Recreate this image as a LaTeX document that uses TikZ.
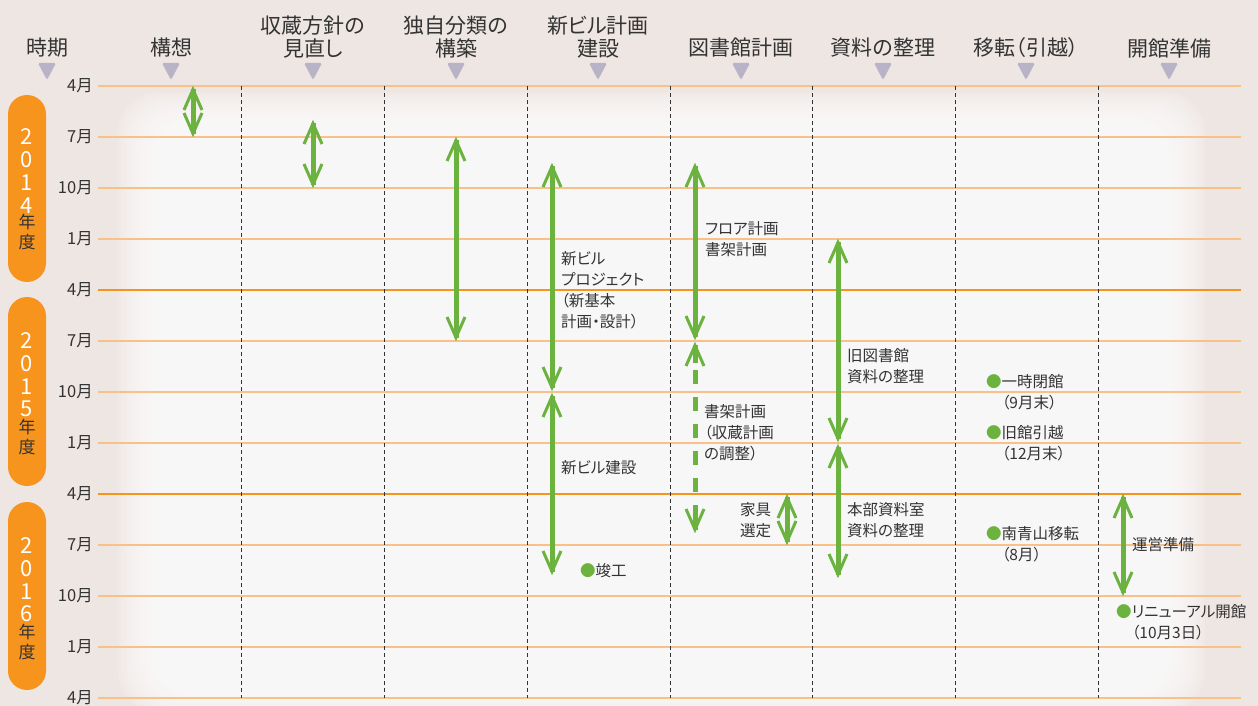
\documentclass[tikz,border=0pt]{standalone}
\usepackage{fontspec}
\setmainfont{Noto Sans CJK JP}[RawFeature=+palt]
\usetikzlibrary{arrows.meta}
\definecolor{bgc}{HTML}{EEE6E3}
\definecolor{grn}{HTML}{6CB23F}
\definecolor{org}{HTML}{F7941D}
\definecolor{lorg}{HTML}{F9C187}
\definecolor{tri}{HTML}{B8B3C6}
\definecolor{txt}{HTML}{333333}
\tikzset{
  hdr/.style={font=\fontsize{21}{23}\selectfont, text=txt, align=center, inner sep=0pt},
  mon/.style={font=\fontsize{16.5}{18}\selectfont, text=txt, anchor=east, inner sep=0pt},
  lbl/.style={font=\fontsize{15.5}{21}\selectfont, text=txt, align=left, anchor=west, inner sep=0pt},
  yr/.style={font=\fontsize{22}{22.7}\selectfont, text=white, align=center, inner sep=0pt},
  yrk/.style={font=\fontsize{17}{20}\selectfont, text=txt, align=center, inner sep=0pt},
  gline/.style={draw=grn, line width=5pt},
  ghead/.style={draw=grn, line width=3pt, line join=miter},
  sep/.style={draw=txt, line width=1pt, dash pattern=on 4pt off 3pt},
  mline/.style={draw=lorg, line width=2pt},
  yline/.style={draw=org, line width=2.6pt},
  pill/.style={fill=org, rounded corners=19pt},
  tridown/.style={fill=tri}
}
\newcommand\HeadUp[1]{\draw[ghead] ([shift={(-9,24)}]#1) -- ([shift={(0,3.5)}]#1) -- ([shift={(9,24)}]#1);}
\newcommand\HeadDown[1]{\draw[ghead] ([shift={(-9,-24)}]#1) -- ([shift={(0,-3.5)}]#1) -- ([shift={(9,-24)}]#1);}
\newcommand\GArrow[2]{\draw[gline] ([shift={(0,3)}]#1) -- ([shift={(0,-3)}]#2); \HeadUp{#1} \HeadDown{#2}}
\begin{document}
\begin{tikzpicture}[x=1pt,y=-1pt]
\useasboundingbox (0,0) rectangle (1258,706);
\clip (0,0) rectangle (1258,706);
\fill[bgc] (0,0) rectangle (1258,706);
\foreach \k in {0,...,23}
  \fill[white, opacity=0.12, rounded corners=40pt] (118+\k*3,92+\k*2.5) rectangle (1205-\k*3,712-\k*1.5);

% month lines
\foreach \i/\m in {0/4,1/7,2/10,3/1,4/4,5/7,6/10,7/1,8/4,9/7,10/10,11/1,12/4}{
  \node[mon] (m\i) at (93,86+\i*51) {\m 月};
  \coordinate (L\i) at (98,86+\i*51);
  \coordinate (R\i) at (1241,86+\i*51);
}
\foreach \i in {0,1,2,3,5,6,7,9,10,11,12} \draw[mline] (L\i) -- (R\i);
\foreach \i in {4,8} \draw[yline] (L\i) -- (R\i);

% separators
\foreach \x [count=\j] in {241,384,527,670,812,955,1098}{
  \coordinate (st\j) at (\x,86);
  \coordinate (sb\j) at (\x,698);
  \draw[sep] (st\j) -- (sb\j);
}

% headers
\node[hdr] (h0) at (47,48) {時期};
\node[hdr] (h1) at (171,48) {構想};
\node[hdr] (h2) at (313,37) {収蔵方針の\\見直し};
\node[hdr] (h3) at (456,37) {独自分類の\\構築};
\node[hdr] (h4) at (598,37) {新ビル計画\\建設};
\node[hdr] (h5) at (741,48) {図書館計画};
\node[hdr] (h6) at (883,48) {資料の整理};
\node[hdr] (h7) at (1026,48) {移転（引越）};
\node[hdr] (h8) at (1169,48) {開館準備};
\foreach \x in {47,171,313,456,598,741,883,1026,1169}
  \fill[tridown, rounded corners=1.5pt] (\x-9,63) -- (\x+9,63) -- (\x,80) -- cycle;

% year pills
\fill[pill] (8,95) rectangle (46,282);
\fill[pill] (8,297) rectangle (46,486);
\fill[pill] (8,502) rectangle (46,690);
\node[yr] (y14) at (27,171) {2\\0\\1\\4};
\node[yrk] (k14) at (27,232) {年\\度};
\node[yr] (y15) at (27,375) {2\\0\\1\\5};
\node[yrk] (k15) at (27,437) {年\\度};
\node[yr] (y16) at (27,580) {2\\0\\1\\6};
\node[yrk] (k16) at (27,642) {年\\度};

% arrows
\coordinate (a1) at (193,86);  \coordinate (a2) at (193,137);
\GArrow{a1}{a2}
\coordinate (b1) at (313,120); \coordinate (b2) at (313,188);
\GArrow{b1}{b2}
\coordinate (c1) at (456,137); \coordinate (c2) at (456,341);
\GArrow{c1}{c2}
\coordinate (d1) at (552,163); \coordinate (d2) at (552,391); \coordinate (d2b) at (552,393); \coordinate (d3) at (552,575);
\GArrow{d1}{d2}
\GArrow{d2b}{d3}
\coordinate (e1) at (695,163); \coordinate (e2) at (695,340); \coordinate (e2b) at (695,342);
\coordinate (e3) at (695,363); \coordinate (e4) at (695,508); \coordinate (e5) at (695,533);
\GArrow{e1}{e2}
\draw[gline] ([shift={(0,3)}]e2b) -- (e3);
\HeadUp{e2b}
\draw[gline, dash pattern=on 14pt off 13pt] ([yshift=-7pt]e3) -- (e4);
\draw[gline] (e4) -- ([shift={(0,-3)}]e5);
\HeadDown{e5}
\coordinate (f1) at (787,494); \coordinate (f2) at (787,545);
\GArrow{f1}{f2}
\coordinate (g1) at (838,239); \coordinate (g2) at (838,442); \coordinate (g2b) at (838,444); \coordinate (g3) at (838,578);
\GArrow{g1}{g2}
\GArrow{g2b}{g3}
\coordinate (i1) at (1123,494); \coordinate (i2) at (1123,596);
\GArrow{i1}{i2}

% labels
\node[lbl] (t1) at (561,290) {新ビル\\プロジェクト\\（新基本\\計画・設計）};
\node[lbl] (t2) at (705,239.5) {フロア計画\\書架計画};
\node[lbl] (t3) at (561,468) {新ビル建設};
\node[lbl] (t4) at (704,433) {書架計画\\（収蔵計画\\の調整）};
\node[lbl] (t5) at (740,520.5) {家具\\選定};
\node[lbl] (t6) at (847,520.5) {本部資料室\\資料の整理};
\node[lbl] (t7) at (847,366.5) {旧図書館\\資料の整理};
\node[lbl] (t8) at (986,392.5) {\textcolor{grn}{●}一時閉館\\\hspace{1em}（9月末）};
\node[lbl] (t9) at (986,443) {\textcolor{grn}{●}旧館引越\\\hspace{1em}（12月末）};
\node[lbl] (t10) at (986,544) {\textcolor{grn}{●}南青山移転\\\hspace{1em}（8月）};
\node[lbl] (t11) at (1132,545) {運営準備};
\node[lbl] (t12) at (1116,622) {\textcolor{grn}{●}リニューアル開館\\\hspace{1em}（10月3日）};
\node[lbl] (t13) at (580,571) {\textcolor{grn}{●}竣工};
\end{tikzpicture}
\end{document}
